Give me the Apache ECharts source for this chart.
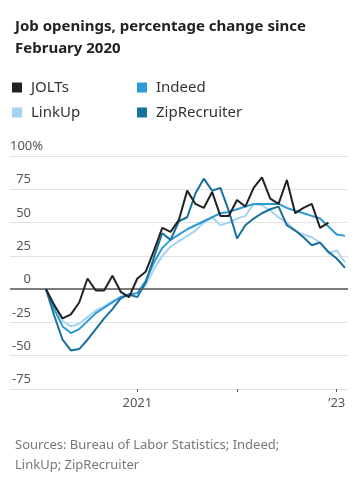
<!DOCTYPE html>
<html>
<head>
<meta charset="utf-8">
<script src="https://cdn.jsdelivr.net/npm/echarts@6/dist/echarts.min.js"></script>
<style>
html,body{margin:0;padding:0;background:#fff;}
#chart{width:357px;height:480px;}
</style>
</head>
<body>
<div id="chart"></div>
<script>
// Months, Feb 2020 .. Feb 2023
const months = ['2020-02','2020-03','2020-04','2020-05','2020-06','2020-07','2020-08','2020-09','2020-10','2020-11','2020-12',
  '2021-01','2021-02','2021-03','2021-04','2021-05','2021-06','2021-07','2021-08','2021-09','2021-10','2021-11','2021-12',
  '2022-01','2022-02','2022-03','2022-04','2022-05','2022-06','2022-07','2022-08','2022-09','2022-10','2022-11','2022-12',
  '2023-01','2023-02'];

// Percentage change since February 2020
const jolts = [0,-12,-22,-19,-10,8,-1,-1,10,-2,-6,8,13,29,46,43,52,74,64,61,73,55,55,67,62,76,84,68,64,82,57,61,64,46,50];
const indeed = [0,-15,-28,-33,-30,-24,-18,-14,-10,-6,-4,-3,6,20,31,37,41,45,48,51,54,57,58,60,62,64,64,64,64,61,59,57,55,53,47,41,40];
const linkup = [0,-12,-24,-28,-26,-21,-16,-13,-9,-6,-4,-3,3,15,25,32,36,40,44,50,54,48,50,53,55,64,63,59,54,50,44,41,39,35,27,29,20];
const zip = [0,-20,-38,-46,-45,-38,-30,-22,-15,-7,-4,-6,5,24,42,37,51,54,72,83,74,76,59,38,48,53,57,60,62,48,44,39,33,35,28,23,16];

const tickMonths = ['2021-01','2022-01','2023-01'];
const tickLabels = ['2021','','\u201923'];

const seriesNames = ['JOLTs','Indeed','LinkUp','ZipRecruiter'];
const colors = {JOLTs:'#222222', Indeed:'#2b9ad5', LinkUp:'#a6d3ef', ZipRecruiter:'#18709d'};

const toPts = arr => arr.map((v,i)=>[months.indexOf(months[i]), v]);
const tickIdx = tickMonths.map(m=>months.indexOf(m));

const chart = echarts.init(document.getElementById('chart'), null, {renderer:'canvas'});

function lineSeries(name, data, z){
  return {
    name, type:'line', data: toPts(data), showSymbol:false, symbol:'none', z,
    lineStyle:{color:colors[name], width:2},
    itemStyle:{color:colors[name]},
    emphasis:{disabled:true}, animation:false
  };
}

const legendPos = {JOLTs:[12,80], Indeed:[137,80], LinkUp:[12,105], ZipRecruiter:[137,105]};
const legends = seriesNames.map(n=>({
  data:[n], left:legendPos[n][0], top:legendPos[n][1], padding:0,
  icon:'rect', itemWidth:10, itemHeight:10, selectedMode:false,
  textStyle:{fontFamily:'Noto Sans', fontSize:15, color:'#333', padding:[0,0,0,4]}
}));

const zeroSeries = lineSeries('LinkUp', linkup, 2);
zeroSeries.markLine = {
  silent:true, symbol:'none', label:{show:false},
  lineStyle:{color:'#555', width:1.5, type:'solid'},
  data:[{yAxis:0}]
};

chart.setOption({
  animation:false,
  textStyle:{fontFamily:'Noto Sans'},
  title:[
    {text:'Job openings, percentage change since\nFebruary 2020', left:10, top:11,
     textStyle:{fontFamily:'Noto Sans', fontSize:15, fontWeight:'bold', color:'#222', lineHeight:22}},
    {text:'Sources: Bureau of Labor Statistics; Indeed;\nLinkUp; ZipRecruiter', left:10, top:430,
     textStyle:{fontFamily:'Noto Sans', fontSize:13, fontWeight:'normal', color:'#777', lineHeight:20}}
  ],
  legend: legends,
  grid:{left:10, right:9, top:156, bottom:91, containLabel:false},
  xAxis:{
    type:'value', min:-4.33, max:36.36,
    splitLine:{show:false},
    axisLine:{show:true, onZero:false, lineStyle:{color:'#e2e2e2', width:1}},
    axisTick:{show:true, customValues:tickIdx, length:3, lineStyle:{color:'#555', width:1}},
    axisLabel:{show:true, customValues:tickIdx, margin:8, fontSize:13, color:'#555',
      formatter:v=>{const k=tickIdx.indexOf(Math.round(v)); return k>=0?tickLabels[k]:'';}}
  },
  yAxis:{
    type:'value', min:-75, max:100, interval:25,
    axisLine:{show:false}, axisTick:{show:false},
    splitLine:{show:true, lineStyle:{color:'#e2e2e2', width:1}},
    axisLabel:{inside:true, align:'right', verticalAlign:'bottom', margin:21, padding:[0,0,3,0],
      fontSize:13, color:'#555',
      formatter:v=> v===100 ? '{p|100%}' : String(v),
      rich:{p:{width:21, align:'left', fontSize:13, color:'#555'}}
    }
  },
  series:[
    zeroSeries,
    lineSeries('Indeed', indeed, 3),
    lineSeries('ZipRecruiter', zip, 4),
    lineSeries('JOLTs', jolts, 5)
  ]
});
</script>
</body>
</html>
